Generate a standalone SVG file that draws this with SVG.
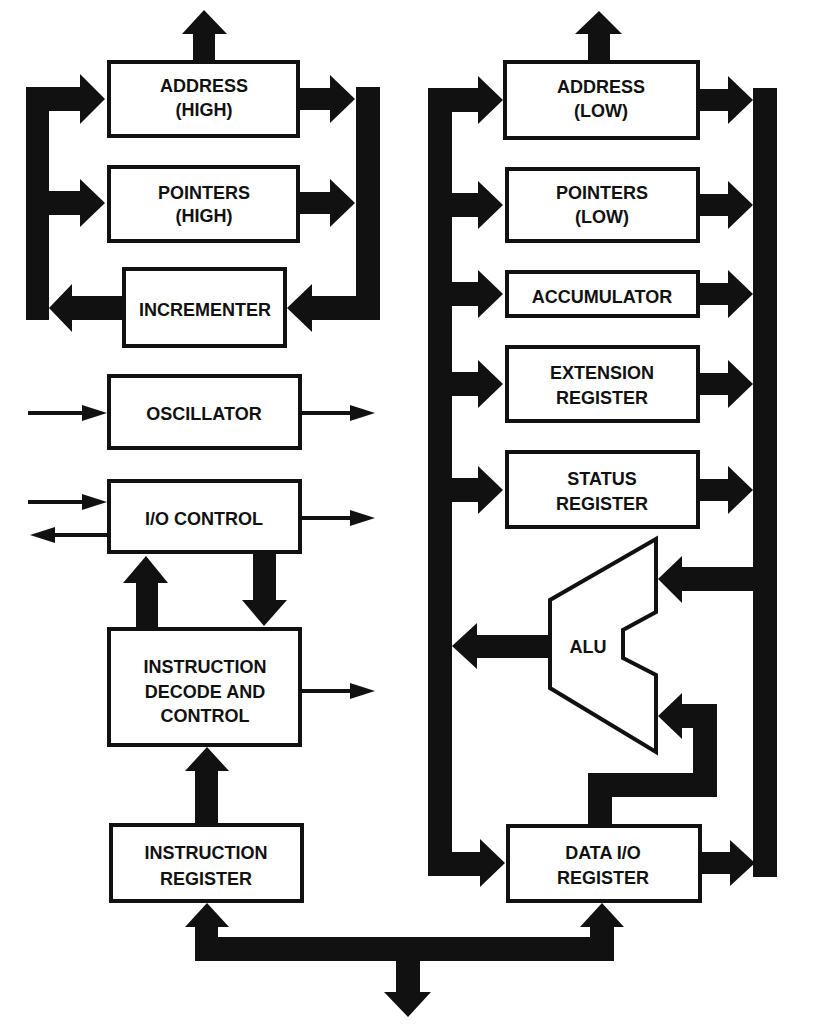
<svg xmlns="http://www.w3.org/2000/svg" width="814" height="1028" viewBox="0 0 814 1028">
<style>
.box{fill:#fff;stroke:#111;stroke-width:4}
.t{font-family:"Liberation Sans",Arial,sans-serif;font-weight:bold;font-size:18px;fill:#111;text-anchor:middle}
.fat{fill:#111;stroke:none}
.thin{stroke:#111;stroke-width:4;fill:none}
.head{fill:#111}
.feed{fill:none;stroke:#111;stroke-width:24;stroke-linejoin:miter}
</style>
<rect width="814" height="1028" fill="#fff"/>

<g id="connectors">
  <!-- left column: up arrow from ADDRESS (HIGH) -->
  <rect class="fat" x="193" y="32" width="22" height="29"/>
  <polygon class="fat" points="182,34 204,10 227,34"/>
  <!-- left bus (feeds address/pointers high) -->
  <rect class="fat" x="26" y="87" width="23" height="233"/>
  <rect class="fat" x="26" y="87" width="56" height="24"/>
  <polygon class="fat" points="80,74 105,99 80,124"/>
  <rect class="fat" x="49" y="191" width="33" height="24"/>
  <polygon class="fat" points="80,179 105,203 80,227"/>
  <rect class="fat" x="70" y="296" width="53" height="24"/>
  <polygon class="fat" points="72,284 49,308 72,332"/>
  <!-- right bus (to incrementer) -->
  <rect class="fat" x="356" y="87" width="24" height="233"/>
  <rect class="fat" x="299" y="88" width="33" height="22"/>
  <polygon class="fat" points="330,75 355,99 330,123"/>
  <rect class="fat" x="299" y="192" width="33" height="22"/>
  <polygon class="fat" points="330,179 355,203 330,227"/>
  <rect class="fat" x="310" y="296" width="70" height="24"/>
  <polygon class="fat" points="312,284 287,308 312,332"/>

  <!-- thin signal arrows -->
  <line class="thin" x1="28" y1="413" x2="84" y2="413"/>
  <polygon class="head" points="82,405 107,413 82,421"/>
  <line class="thin" x1="302" y1="413" x2="352" y2="413"/>
  <polygon class="head" points="350,405 375,413 350,421"/>
  <line class="thin" x1="28" y1="502" x2="84" y2="502"/>
  <polygon class="head" points="82,494 107,502 82,510"/>
  <line class="thin" x1="107" y1="535" x2="53" y2="535"/>
  <polygon class="head" points="55,527 30,535 55,543"/>
  <line class="thin" x1="302" y1="518" x2="352" y2="518"/>
  <polygon class="head" points="350,510 375,518 350,526"/>
  <line class="thin" x1="302" y1="691" x2="352" y2="691"/>
  <polygon class="head" points="350,683 375,691 350,699"/>

  <!-- decode <-> I/O control -->
  <rect class="fat" x="136" y="581" width="22" height="47"/>
  <polygon class="fat" points="123,583 146,556 168,583"/>
  <rect class="fat" x="253" y="553" width="23" height="49"/>
  <polygon class="fat" points="242,600 264,626 287,600"/>
  <!-- instruction register -> decode -->
  <rect class="fat" x="195" y="769" width="23" height="55"/>
  <polygon class="fat" points="185,771 207,747 229,771"/>

  <!-- bottom data bus -->
  <rect class="fat" x="195" y="925" width="23" height="36"/>
  <polygon class="fat" points="185,927 207,903 229,927"/>
  <rect class="fat" x="590" y="925" width="24" height="36"/>
  <polygon class="fat" points="580,927 602,903 624,927"/>
  <rect class="fat" x="195" y="937" width="419" height="24"/>
  <rect class="fat" x="396" y="960" width="24" height="34"/>
  <polygon class="fat" points="384,992 408,1017 431,992"/>

  <!-- right column: up arrow from ADDRESS (LOW) -->
  <rect class="fat" x="588" y="32" width="22" height="29"/>
  <polygon class="fat" points="575,34 599,11 622,34"/>
  <!-- left bus of right column -->
  <rect class="fat" x="428" y="88" width="24" height="788"/>
  <rect class="fat" x="428" y="88" width="52" height="24"/>
  <polygon class="fat" points="478,76 503,100 478,124"/>
  <rect class="fat" x="451" y="193" width="29" height="24"/>
  <polygon class="fat" points="478,181 503,205 478,229"/>
  <rect class="fat" x="451" y="282" width="29" height="24"/>
  <polygon class="fat" points="478,270 503,294 478,318"/>
  <rect class="fat" x="451" y="372" width="29" height="24"/>
  <polygon class="fat" points="478,360 503,384 478,408"/>
  <rect class="fat" x="451" y="478" width="29" height="24"/>
  <polygon class="fat" points="478,466 503,490 478,514"/>
  <rect class="fat" x="428" y="852" width="54" height="24"/>
  <polygon class="fat" points="480,839 505,863 480,887"/>
  <!-- ALU output to left bus -->
  <rect class="fat" x="475" y="635" width="77" height="23"/>
  <polygon class="fat" points="477,623 452,646 477,669"/>
  <!-- right bus of right column -->
  <rect class="fat" x="753" y="88" width="24" height="789"/>
  <rect class="fat" x="699" y="89" width="31" height="22"/>
  <polygon class="fat" points="728,76 753,100 728,124"/>
  <rect class="fat" x="699" y="194" width="31" height="22"/>
  <polygon class="fat" points="728,181 753,205 728,229"/>
  <rect class="fat" x="699" y="283" width="31" height="22"/>
  <polygon class="fat" points="728,270 753,294 728,318"/>
  <rect class="fat" x="699" y="373" width="31" height="22"/>
  <polygon class="fat" points="728,360 753,384 728,408"/>
  <rect class="fat" x="699" y="479" width="31" height="22"/>
  <polygon class="fat" points="728,466 753,490 728,514"/>
  <rect class="fat" x="701" y="852" width="31" height="22"/>
  <polygon class="fat" points="730,840 755,863 730,886"/>
  <!-- right bus to ALU (top input) -->
  <rect class="fat" x="680" y="567" width="74" height="24"/>
  <polygon class="fat" points="682,556 658,579 682,603"/>
  <!-- data I/O register to ALU (bottom input) -->
  <path class="feed" d="M600,826 V785 H705 V716 H680"/>
  <polygon class="fat" points="682,693 658,716 682,739"/>
</g>

<g id="address-high"><rect class="box" x="109" y="62" width="189" height="74"/><text class="t" x="204" y="92">ADDRESS</text><text class="t" x="204" y="116">(HIGH)</text></g>
<g id="pointers-high"><rect class="box" x="109" y="167" width="189" height="74"/><text class="t" x="204" y="199">POINTERS</text><text class="t" x="204" y="222">(HIGH)</text></g>
<g id="incrementer"><rect class="box" x="124" y="269" width="161" height="77"/><text class="t" x="205" y="316">INCREMENTER</text></g>
<g id="oscillator"><rect class="box" x="109" y="376" width="191" height="72"/><text class="t" x="204" y="420">OSCILLATOR</text></g>
<g id="io-control"><rect class="box" x="109" y="481" width="191" height="71"/><text class="t" x="204" y="525">I/O CONTROL</text></g>
<g id="instruction-decode"><rect class="box" x="109" y="629" width="191" height="116"/><text class="t" x="205" y="673">INSTRUCTION</text><text class="t" x="205" y="698">DECODE AND</text><text class="t" x="205" y="722">CONTROL</text></g>
<g id="instruction-register"><rect class="box" x="111" y="825" width="191" height="76"/><text class="t" x="206" y="859">INSTRUCTION</text><text class="t" x="206" y="885">REGISTER</text></g>

<g id="address-low"><rect class="box" x="505" y="62" width="193" height="76"/><text class="t" x="601" y="93">ADDRESS</text><text class="t" x="601" y="117">(LOW)</text></g>
<g id="pointers-low"><rect class="box" x="507" y="169" width="191" height="72"/><text class="t" x="602" y="199">POINTERS</text><text class="t" x="602" y="223">(LOW)</text></g>
<g id="accumulator"><rect class="box" x="507" y="272" width="191" height="44"/><text class="t" x="602" y="303">ACCUMULATOR</text></g>
<g id="extension-register"><rect class="box" x="507" y="347" width="191" height="74"/><text class="t" x="602" y="379">EXTENSION</text><text class="t" x="602" y="404">REGISTER</text></g>
<g id="status-register"><rect class="box" x="507" y="452" width="191" height="75"/><text class="t" x="602" y="485">STATUS</text><text class="t" x="602" y="510">REGISTER</text></g>
<g id="alu"><polygon class="box" points="656,539 550,600 550,688 656,752 656,675 623,658 623,630 656,612"/><text class="t" x="588" y="653">ALU</text></g>
<g id="data-io-register"><rect class="box" x="508" y="826" width="192" height="75"/><text class="t" x="603" y="859">DATA I/O</text><text class="t" x="603" y="884">REGISTER</text></g>
</svg>
